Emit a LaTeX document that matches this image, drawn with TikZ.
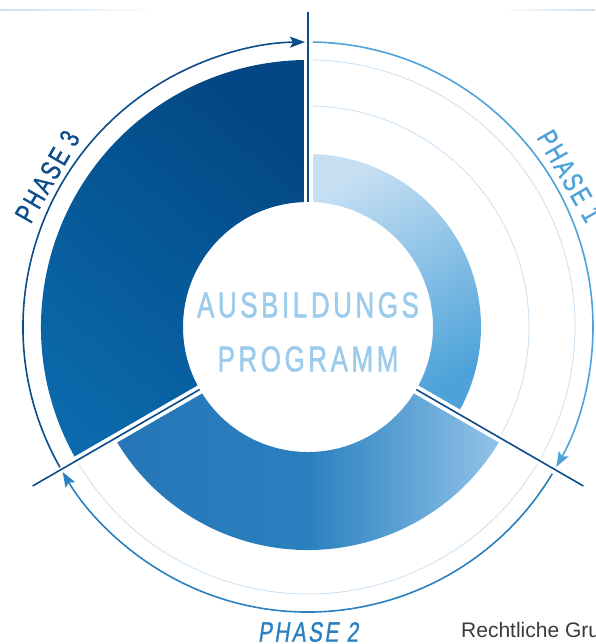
\documentclass[tikz,border=0pt]{standalone}
\usepackage{fontspec}
\setmainfont{Liberation Sans}
\newfontfamily\titlefont[FakeStretch=0.72,FakeBold=1.4,LetterSpace=10]{Liberation Sans}
\newfontfamily\phasefont[FakeStretch=0.74,FakeBold=1,LetterSpace=9]{Liberation Sans}
\newfontfamily\phaseslant[FakeStretch=0.74,FakeBold=1,FakeSlant=0.15,LetterSpace=9]{Liberation Sans}
\usetikzlibrary{arrows.meta}

\definecolor{navy}{HTML}{0B4C8A}
\definecolor{phasethreedark}{HTML}{034784}
\definecolor{phasethreelight}{HTML}{0A6AAC}
\definecolor{phasetwodark}{HTML}{2676B8}
\definecolor{phasetwomid}{HTML}{2A80BF}
\definecolor{phasetwolight}{HTML}{92C4E9}
\definecolor{phaseonelight}{HTML}{C6DFF3}
\definecolor{phaseonedark}{HTML}{4CA2D9}
\definecolor{ringline}{HTML}{C9DFF2}
\definecolor{titleblue}{HTML}{9CCBEC}
\definecolor{footgray}{HTML}{3A3A3A}

\begin{document}
\begin{tikzpicture}[x=1pt,y=1pt,
    separator/.style={draw=navy, line width=1.6pt},
    gap/.style={draw=white, line width=9pt},
    ring/.style={draw=ringline, line width=0.8pt},
    cycle arrow/.style={line width=1.6pt, -{Stealth[length=15pt,width=11pt,inset=3pt]}},
    phaselabel/.style={font=\phasefont\fontsize{28}{30}\selectfont, inner sep=0pt}]
  \useasboundingbox (-308,-317) rectangle (287,327);
  % Faint rules along the top edge.
  \shade[left color=ringline, right color=white] (-308,316) rectangle (-150,317.5);
  \shade[left color=white, right color=ringline] (190,316) rectangle (287,317.5);
  % Draw the three phase segments.
  \shade[top color=phasethreedark, bottom color=phasethreelight, shading angle=-40]
    (90:125pt) arc[start angle=90, end angle=210, radius=125pt]
    -- (210:267pt) arc[start angle=210, end angle=90, radius=267pt] -- cycle;
  \shade[left color=phasetwodark, right color=phasetwolight, middle color=phasetwomid]
    (210:125pt) arc[start angle=210, end angle=330, radius=125pt]
    -- (330:223pt) arc[start angle=330, end angle=210, radius=223pt] -- cycle;
  \shade[top color=phaseonelight, bottom color=phaseonedark, shading angle=30]
    (-30:125pt) arc[start angle=-30, end angle=90, radius=125pt]
    -- (90:173pt) arc[start angle=90, end angle=-30, radius=173pt] -- cycle;
  % Thin guide rings.
  \draw[ring] (210:267pt) arc[start angle=210, end angle=450, radius=267pt];
  \draw[ring] (-30:221pt) arc[start angle=-30, end angle=90, radius=221pt];
  % White gaps and the separator lines.
  \draw[gap] (90:124pt) -- (90:292pt);
  \draw[gap] (210:124pt) -- (210:275pt);
  \draw[gap] (330:124pt) -- (330:275pt);
  \draw[separator] (90:125pt) -- (90:315pt);
  \draw[separator] (210:125pt) -- (210:318pt);
  \draw[separator] (330:125pt) -- (330:318pt);
  % Cycle arrows around the ring.
  \draw[cycle arrow, navy] (209.5:285pt) arc[start angle=209.5, end angle=90.6, radius=285pt];
  \draw[cycle arrow, phaseonedark] (89:285pt) arc[start angle=89, end angle=-29.4, radius=285pt];
  \draw[cycle arrow, phasetwomid] (-31:285pt) arc[start angle=-31, end angle=-149.4, radius=285pt];
  % Labels.
  \node[phaselabel, text=navy, rotate=60] (phasethree) at (150:301pt) {PHASE 3};
  \node[phaselabel, text=phaseonedark, rotate=-60] (phaseone) at (30:302pt) {PHASE 1};
  \node[phaselabel, text=phasetwomid, font=\phaseslant\fontsize{28}{30}\selectfont] (phasetwo) at (-90:305pt) {PHASE 2};
  \node[font=\titlefont\fontsize{36}{54}\selectfont, text=titleblue, align=center] (title) at (0,-5) {AUSBILDUNGS\\PROGRAMM};
  \node[anchor=base west, inner sep=0pt, font=\fontsize{21}{24}\selectfont, text=footgray] (footer) at (153,-310) {Rechtliche Gru};
\end{tikzpicture}
\end{document}
